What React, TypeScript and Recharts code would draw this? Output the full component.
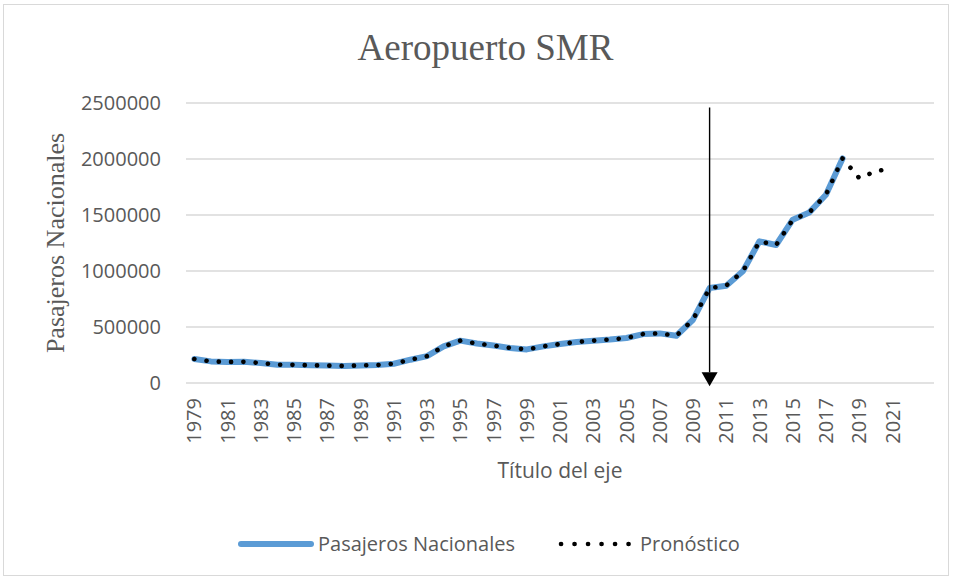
import React from 'react';
import { LineChart, Line, XAxis, YAxis, CartesianGrid, ReferenceLine } from 'recharts';

const years = [
  '1979', '1980', '1981', '1982', '1983', '1984', '1985', '1986', '1987', '1988',
  '1989', '1990', '1991', '1992', '1993', '1994', '1995', '1996', '1997', '1998',
  '1999', '2000', '2001', '2002', '2003', '2004', '2005', '2006', '2007', '2008',
  '2009', '2010', '2011', '2012', '2013', '2014', '2015', '2016', '2017', '2018',
  '2019', '2020', '2021', '2022', '',
];

const pasajeros = [
  214000, 193000, 188000, 189000, 178000, 163000, 162000, 158000, 156000, 152000,
  157000, 160000, 172000, 208000, 240000, 327000, 378000, 352000, 334000, 313000,
  300000, 327000, 348000, 366000, 378000, 388000, 402000, 437000, 443000, 422000,
  565000, 848000, 869000, 997000, 1265000, 1232000, 1458000, 1523000, 1681000, 2005000,
];

const pronosticoFuturo = [1830000, 1890000, 1920000];

const yTicks = [0, 500000, 1000000, 1500000, 2000000, 2500000];

const arrowYear = '2010';
const arrowTop = 2460000;
const arrowBottom = -30000;

const data = years.map((year, i) => {
  const hist = i < pasajeros.length ? pasajeros[i] : null;
  const fi = i - pasajeros.length;
  const fut = fi >= 0 && fi < pronosticoFuturo.length ? pronosticoFuturo[fi] : null;
  return { year, pasajeros: hist, pronostico: hist !== null ? hist : fut };
});

const GREY = '#595959';
const SANS = '"Open Sans", sans-serif';
const SERIF = '"Liberation Serif", "Times New Roman", serif';

const YearTick = (props: any) => {
  const { x, y, payload } = props;
  return (
    <text
      x={x}
      y={y}
      transform={`rotate(-90, ${x}, ${y})`}
      textAnchor="end"
      dy="0.36em"
      fill={GREY}
      fontSize={20}
      fontFamily={SANS}
    >
      {payload.value}
    </text>
  );
};

const ArrowShape = (props: any) => {
  const { x1, y1, x2, y2 } = props;
  const head = 14;
  return (
    <g>
      <line x1={x1} y1={y1} x2={x2} y2={y2 - head} stroke="#000" strokeWidth={1.4} />
      <polygon points={`${x2 - 8},${y2 - head} ${x2 + 8},${y2 - head} ${x2},${y2}`} fill="#000" />
    </g>
  );
};

const YTitle = (props: any) => {
  const vb = props.viewBox;
  const cx = vb.x + 55;
  const cy = vb.y + vb.height / 2;
  return (
    <text
      x={cx}
      y={cy}
      transform={`rotate(-90, ${cx}, ${cy})`}
      textAnchor="middle"
      dominantBaseline="central"
      fill={GREY}
      fontSize={26}
      fontFamily={SERIF}
    >
      Pasajeros Nacionales
    </text>
  );
};

const XTitle = (props: any) => {
  const vb = props.viewBox;
  return (
    <text
      x={vb.x + vb.width / 2}
      y={vb.y + 95}
      textAnchor="middle"
      fill={GREY}
      fontSize={21}
      fontFamily={SANS}
    >
      Título del eje
    </text>
  );
};

export default function App() {
  return (
    <div style={{ position: 'absolute', left: 0, top: 0, width: 953, height: 580, background: '#fff' }}>
      <div
        style={{
          position: 'absolute',
          left: 3,
          top: 4,
          width: 946,
          height: 572,
          border: '1px solid #d9d9d9',
          boxSizing: 'border-box',
        }}
      />
      <div
        style={{
          position: 'absolute',
          left: 0,
          top: 26,
          width: 971,
          textAlign: 'center',
          fontFamily: SERIF,
          fontSize: 37,
          color: GREY,
          lineHeight: '44px',
        }}
      >
        Aeropuerto SMR
      </div>
      <div style={{ position: 'absolute', left: 0, top: 0 }}>
        <LineChart width={953} height={580} data={data} margin={{ top: 103, right: 19, bottom: 0, left: 0 }}>
          <CartesianGrid horizontal vertical={false} stroke="#d9d9d9" strokeWidth={1.5} />
          <XAxis
            dataKey="year"
            scale="band"
            interval={1}
            height={197}
            tickLine={false}
            axisLine={false}
            tickSize={0}
            tickMargin={15}
            tick={<YearTick />}
            label={<XTitle />}
          />
          <YAxis
            width={186}
            domain={[0, 2500000]}
            ticks={yTicks}
            interval={0}
            tickLine={false}
            axisLine={false}
            tickSize={0}
            tickMargin={25}
            tick={{ fill: GREY, fontSize: 20, fontFamily: SANS }}
            label={<YTitle />}
          />
          <Line
            dataKey="pasajeros"
            stroke="#5b9bd5"
            strokeWidth={6}
            strokeLinecap="round"
            strokeLinejoin="round"
            dot={false}
            activeDot={false}
            isAnimationActive={false}
          />
          <Line
            dataKey="pronostico"
            stroke="#000"
            strokeWidth={4.6}
            strokeDasharray="0.1 12.2"
            strokeLinecap="round"
            dot={false}
            activeDot={false}
            isAnimationActive={false}
          />
          <ReferenceLine
            segment={[
              { x: arrowYear, y: arrowTop },
              { x: arrowYear, y: arrowBottom },
            ]}
            ifOverflow="visible"
            shape={<ArrowShape />}
          />
        </LineChart>
      </div>
      <div
        style={{
          position: 'absolute',
          left: 0,
          top: 530,
          width: 953,
          height: 30,
          fontFamily: SANS,
          fontSize: 20,
          color: GREY,
        }}
      >
        <svg style={{ position: 'absolute', left: 236, top: 8 }} width={80} height={12}>
          <line x1={5} y1={6} x2={75} y2={6} stroke="#5b9bd5" strokeWidth={6} strokeLinecap="round" />
        </svg>
        <span style={{ position: 'absolute', left: 318, top: 0, lineHeight: '28px' }}>Pasajeros Nacionales</span>
        <svg style={{ position: 'absolute', left: 556, top: 8 }} width={78} height={12}>
          <line x1={5} y1={6} x2={73} y2={6} stroke="#000" strokeWidth={4.6} strokeDasharray="0.1 13.4" strokeLinecap="round" />
        </svg>
        <span style={{ position: 'absolute', left: 640, top: 0, lineHeight: '28px' }}>Pronóstico</span>
      </div>
    </div>
  );
}
